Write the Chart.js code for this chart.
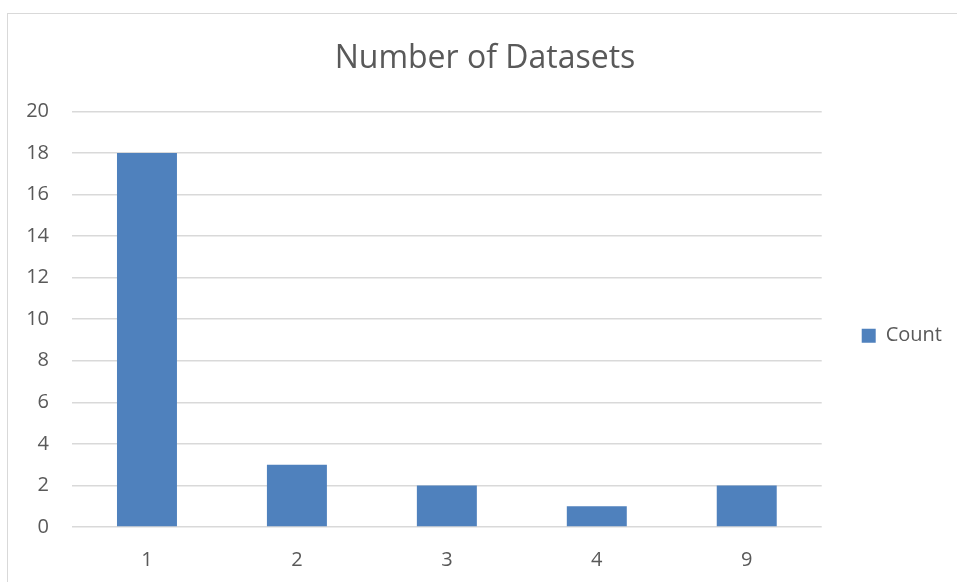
<!DOCTYPE html>
<html>
<head>
<meta charset="utf-8">
<script src="https://cdn.jsdelivr.net/npm/chart.js@4.4.1/dist/chart.umd.min.js"></script>
<style>
  html, body { margin: 0; padding: 0; background: #ffffff; overflow: hidden; }
  #frame { position: absolute; left: 7px; top: 13px; width: 980px; height: 620px; border: 1px solid #d9d9d9; box-sizing: border-box; }
  #wrap { position: absolute; left: 0; top: 0; width: 957px; height: 582px; }
</style>
</head>
<body>
<div id="frame"></div>
<div id="wrap"><canvas id="c" width="957" height="582"></canvas></div>
<script>
const categories = ["1", "2", "3", "4", "9"];
const countValues = [18, 3, 2, 1, 2];
const seriesName = "Count";
const chartTitle = "Number of Datasets";
const yTickMin = 0;
const yTickMax = 20;
const yTickStep = 2;

const textColor = "#595959";
const FONT = "'Open Sans', 'Liberation Sans', sans-serif";

new Chart(document.getElementById("c"), {
  type: "bar",
  data: {
    labels: categories,
    datasets: [{
      label: seriesName,
      data: countValues,
      backgroundColor: "#4F81BD",
      borderWidth: 0,
      categoryPercentage: 0.8,
      barPercentage: 0.5,
      yAxisID: "y"
    }]
  },
  options: {
    responsive: false,
    animation: false,
    events: [],
    layout: { padding: { left: 18, right: 5, top: 0, bottom: 0 } },
    plugins: {
      title: {
        display: true,
        text: chartTitle,
        color: textColor,
        font: { family: FONT, size: 32, weight: "normal" },
        padding: { top: 40, bottom: 33 }
      },
      legend: {
        display: true,
        position: "right",
        title: { display: true, text: "", font: { size: 12 }, padding: { top: 75, bottom: 0 } },
        labels: {
          color: textColor,
          font: { family: FONT, size: 20 },
          boxWidth: 14,
          boxHeight: 14,
          padding: 10
        }
      },
      tooltip: { enabled: false }
    },
    scales: {
      x: {
        grid: { display: false, drawTicks: false },
        border: { display: false },
        ticks: { color: textColor, font: { family: FONT, size: 20 }, padding: 21 },
        afterFit: (s) => { s.height = 55; }
      },
      y: {
        min: yTickMin,
        max: yTickMax,
        grid: { color: "#d9d9d9", lineWidth: 1.5, drawTicks: false },
        border: { display: false },
        ticks: { stepSize: yTickStep, color: textColor, font: { family: FONT, size: 20 }, padding: 23 },
        afterFit: (s) => { s.width = 54; }
      },
      gap: {
        position: "right",
        display: true,
        grid: { display: false, drawTicks: false },
        border: { display: false },
        ticks: { display: false },
        afterFit: (s) => { s.width = 30; }
      }
    }
  }
});
</script>
</body>
</html>
